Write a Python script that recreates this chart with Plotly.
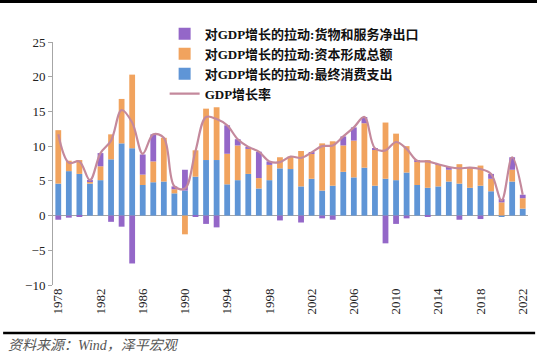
import plotly.graph_objects as go

years = list(range(1978, 2023))
tick_years = years[::4]

consumption = [4.6, 6.4, 6.0, 4.6, 5.1, 8.1, 10.4, 9.7, 4.4, 4.8,
               4.9, 3.2, 3.6, 5.6, 8.0, 8.0, 4.5, 5.1, 6.0, 3.9,
               5.1, 6.8, 6.7, 4.2, 5.3, 3.6, 4.3, 6.3, 5.5, 6.9,
               4.3, 5.3, 5.1, 6.2, 4.4, 4.0, 4.2, 4.9, 4.6, 4.0,
               4.3, 3.5, -0.2, 4.9, 1.0]
capital = [7.7, 1.5, 2.0, 0.3, 2.0, 3.6, 6.4, 10.6, 1.5, 3.0,
           6.3, 0.6, -2.7, 3.8, 7.4, 7.6, 4.4, 5.0, 3.6, 1.5,
           2.2, 1.6, 1.8, 5.1, 3.6, 6.8, 6.4, 3.8, 5.3, 6.4,
           5.2, 8.1, 6.7, 3.8, 3.4, 4.0, 3.1, 1.7, 2.8, 2.9,
           2.9, 1.8, 1.9, 1.7, 1.5]
net_exports = [-0.6, -0.3, -0.2, 0.2, 1.9, -0.9, -1.6, -6.9, 2.9, 3.9,
               0.0, 0.4, 3.0, -0.1, -1.2, -1.7, 4.1, 0.9, 0.3, 3.8,
               0.5, -0.7, 0.0, -1.0, 0.2, -0.4, -0.6, 1.3, 1.9, 0.9,
               0.2, -4.0, -1.2, -0.4, 0.1, -0.2, 0.1, 0.4, -0.6, 0.0,
               -0.5, 0.7, 0.5, 1.8, 0.5]
gdp_growth = [11.7, 7.6, 7.8, 5.1, 9.0, 10.8, 15.2, 13.4, 8.9, 11.7,
              11.2, 4.2, 3.9, 9.3, 14.2, 13.9, 13.0, 11.0, 9.9, 9.2,
              7.8, 7.7, 8.5, 8.3, 9.1, 10.0, 10.1, 11.4, 12.7, 14.2,
              9.7, 9.4, 10.6, 9.6, 7.9, 7.8, 7.4, 7.0, 6.8, 6.9,
              6.7, 6.0, 2.2, 8.4, 3.0]

name_net = "对GDP增长的拉动:货物和服务净出口"
name_cap = "对GDP增长的拉动:资本形成总额"
name_con = "对GDP增长的拉动:最终消费支出"
name_gdp = "GDP增长率"

serif = "Liberation Serif, Times New Roman, Noto Sans CJK SC, serif"

fig = go.Figure()
fig.add_trace(go.Bar(x=years, y=consumption, name=name_con, legendrank=3,
                     marker=dict(color="#5F95D6", line=dict(width=0))))
fig.add_trace(go.Bar(x=years, y=capital, name=name_cap, legendrank=2,
                     marker=dict(color="#F1A35E", line=dict(width=0))))
fig.add_trace(go.Bar(x=years, y=net_exports, name=name_net, legendrank=1,
                     marker=dict(color="#9467C8", line=dict(width=0))))
fig.add_trace(go.Scatter(x=years, y=gdp_growth, name=name_gdp, legendrank=4,
                         mode="lines",
                         line=dict(color="#C4899C", width=2.2, shape="spline", smoothing=1.0)))

fig.update_layout(
    width=537, height=355,
    margin=dict(l=53, r=9, t=42, b=70, autoexpand=False),
    barmode="relative",
    bargap=0.45,
    plot_bgcolor="white",
    paper_bgcolor="white",
    showlegend=True,
    legend=dict(
        x=0.235, y=1.095, xanchor="left", yanchor="top",
        bgcolor="rgba(0,0,0,0)",
        font=dict(family=serif, size=13, color="#111", weight="bold"),
        tracegroupgap=0, itemwidth=30,
    ),
    xaxis=dict(
        range=[1977.5, 2022.5],
        tickmode="array", tickvals=tick_years,
        ticktext=[str(y) for y in tick_years],
        tickangle=-90,
        showline=False, showgrid=False, zeroline=False,
        ticks="", automargin=False,
        tickfont=dict(family=serif, size=13, color="#222"),
    ),
    yaxis=dict(
        range=[-10, 25], dtick=5, tick0=0,
        showline=True, linecolor="#a6a6a6", linewidth=1,
        ticks="outside", ticklen=4, tickcolor="#a6a6a6",
        showgrid=False, automargin=False,
        zeroline=True, zerolinecolor="#a6a6a6", zerolinewidth=1,
        tickfont=dict(family=serif, size=13, color="#222"),
    ),
    shapes=[
        dict(type="rect", xref="paper", yref="paper",
             x0=-0.112, x1=1.02, y0=1.1605, y1=1.18,
             fillcolor="black", line=dict(width=0), layer="above"),
        dict(type="line", xref="paper", yref="paper",
             x0=-0.105, x1=1.015, y0=-0.198, y1=-0.198,
             line=dict(color="black", width=2.5)),
    ],
    annotations=[
        dict(text="<i>资料来源：Wind，泽平宏观</i>", xref="paper", yref="paper",
             x=-0.1, y=-0.247, xanchor="left", yanchor="middle", showarrow=False,
             font=dict(family="Liberation Serif, Noto Sans CJK SC, serif", size=14, color="#555")),
    ],
)

fig.write_html("out.html",
               config={"displayModeBar": False},
               post_script="document.body.style.margin='0';document.body.style.padding='0';")
